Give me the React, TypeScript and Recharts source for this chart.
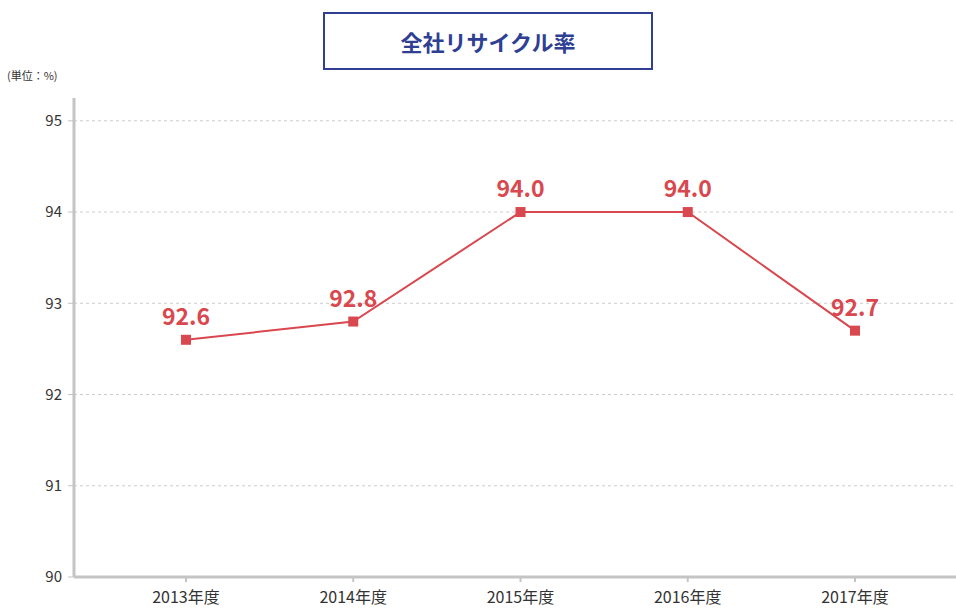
import React from "react";
import { LineChart, Line, XAxis, YAxis, ReferenceLine, LabelList } from "recharts";

const categories = ["2013年度", "2014年度", "2015年度", "2016年度", "2017年度"];
const rates = [92.6, 92.8, 94.0, 94.0, 92.7];
const yTicks = [90, 91, 92, 93, 94, 95];

const data = categories.map((c, i) => ({ name: c, rate: rates[i] }));

const FONT = '"Noto Sans CJK JP", "Noto Sans", sans-serif';
const RED = "#d9474f";
const NAVY = "#2e3f94";

const SquareDot = (props: any) => {
  const { cx, cy } = props;
  if (cx == null || cy == null) return null;
  return <rect x={cx - 5} y={cy - 5} width={10} height={10} fill={RED} />;
};

export default function App() {
  return (
    <div style={{ position: "absolute", left: 0, top: 0, width: 956, height: 608, fontFamily: FONT, background: "#fff" }}>
      <div
        style={{
          position: "absolute",
          left: 323,
          top: 12,
          width: 326,
          height: 54,
          border: `2px solid ${NAVY}`,
          display: "flex",
          alignItems: "center",
          justifyContent: "center",
          color: NAVY,
          fontWeight: 700,
          fontSize: 22,
        }}
      >
        全社リサイクル率
      </div>
      <div style={{ position: "absolute", left: 7, top: 67, fontSize: 11, color: "#333" }}>(単位：%)</div>
      <LineChart
        width={956}
        height={608}
        data={data}
        margin={{ top: 98, right: 0, bottom: 1, left: 0 }}
      >
        {yTicks.slice(1).map((t) => (
          <ReferenceLine key={t} y={t} stroke="#cccccc" strokeDasharray="3 3" />
        ))}
        <XAxis
          dataKey="name"
          padding={{ left: 112, right: 101 }}
          height={30}
          axisLine={{ stroke: "#c4c4c4", strokeWidth: 3 }}
          tickLine={{ stroke: "#c4c4c4", strokeWidth: 2 }}
          tickSize={5}
          tickMargin={10}
          tick={{ fill: "#333", fontSize: 16, fontFamily: FONT }}
        />
        <YAxis
          width={74}
          domain={[90, 95.25]}
          ticks={yTicks}
          allowDataOverflow
          axisLine={{ stroke: "#c4c4c4", strokeWidth: 3 }}
          tickLine={{ stroke: "#c4c4c4", strokeWidth: 1 }}
          tickSize={6}
          tickMargin={6}
          tick={{ fill: "#333", fontSize: 15, fontFamily: FONT }}
        />
        <Line
          type="linear"
          dataKey="rate"
          stroke={RED}
          strokeWidth={2}
          dot={<SquareDot />}
          activeDot={false}
          isAnimationActive={false}
        >
          <LabelList
            dataKey="rate"
            position="top"
            offset={15}
            formatter={(v: any) => Number(v).toFixed(1)}
            style={{ fill: RED, fontSize: 23, fontWeight: 700, fontFamily: FONT }}
          />
        </Line>
      </LineChart>
    </div>
  );
}
